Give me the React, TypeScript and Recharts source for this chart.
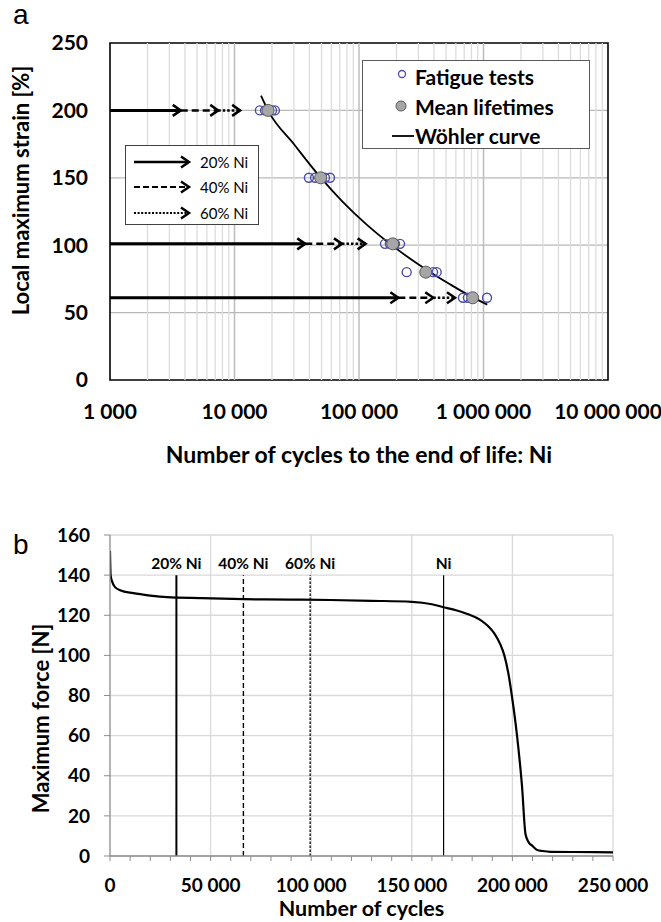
import {
  ComposedChart,
  Scatter,
  Line,
  XAxis,
  YAxis,
  CartesianGrid,
  ReferenceLine,
  ReferenceArea,
  ReferenceDot,
  Legend,
} from 'recharts';

// ---- chart a: Wöhler diagram ----
const testCycles = [16000, 17600, 20000, 21100, 39600, 44400, 53300, 58500, 161700, 177000, 194500, 213600, 241500, 393000, 420600, 684000, 750000, 1067000];
const testStrain = [200, 200, 200, 200, 150, 150, 150, 150, 101, 101, 101, 101, 80, 80, 80, 61, 61, 61];

const meanCycles = [18600, 49200, 186600, 343600, 818000];
const meanStrain = [200, 150, 101, 80, 61];

const woehlerCycles = [16330, 18580, 30060, 49250, 74370, 115300, 186500, 241600, 343400, 538200, 819000, 1073000];
const woehlerStrain = [210.9, 200, 174.9, 150.1, 132, 115.3, 99.5, 91.8, 82.2, 71, 61.3, 55.9];

// horizontal arrows: start of axis -> 20% Ni -> 40% Ni -> 60% Ni
const arrowStrain = [200, 101, 61];
const arrow20 = [3700, 37000, 207000];
const arrow40 = [7400, 73000, 395000];
const arrow60 = [11100, 113000, 590000];

const decadeTicks = [1000, 10000, 100000, 1000000, 10000000];
const strainTicks = [0, 50, 100, 150, 200, 250];

// ---- chart b: force history ----
const forceCycles = [0, 300, 1000, 2500, 5000, 11600, 20000, 28200, 45000, 66300, 90000, 109500, 130000, 150000, 160000, 165800, 172000, 178000, 184000, 188000, 191000, 194000, 196000, 198000, 200000, 202300, 204800, 206500, 208000, 210000, 212300, 215000, 219000, 230000, 250000];
const forceValues = [152, 140, 137, 134, 132.5, 131, 129.8, 129, 128.5, 128, 127.8, 127.6, 127.2, 126.7, 125.5, 124, 122.5, 120.5, 117.7, 114.5, 111, 105.5, 100, 91, 78, 60, 34.5, 11, 7, 5, 3, 2.5, 2.1, 2, 1.8];

const markLabels = ['20% Ni', '40% Ni', '60% Ni', 'Ni'];
const markCycles = [33000, 66300, 99500, 165800];
const markTop = 140;

const cycleTicks = [0, 50000, 100000, 150000, 200000, 250000];
const forceTicks = [0, 20, 40, 60, 80, 100, 120, 140, 160];

const FONT = 'Lato, "Open Sans", sans-serif';

const fmt = (v: number) => String(v).replace(/\B(?=(\d{3})+(?!\d))/g, ' ');

const testData = testCycles.map((n, i) => ({ n, s: testStrain[i] }));
const meanData = meanCycles.map((n, i) => ({ n, s: meanStrain[i] }));
const woehlerData = woehlerCycles.map((n, i) => ({ n, s: woehlerStrain[i] }));

const segs = (from: number[], to: number[]) =>
  arrowStrain.flatMap((s, i) => [
    { n: from[i], s },
    { n: to[i], s },
    { n: to[i], s: null },
  ]);
const solidData = segs(arrowStrain.map(() => 1000), arrow20);
const dashData = segs(arrow20, arrow40);
const dotData = segs(arrow40, arrow60);
const headData = arrowStrain.flatMap((s, i) => [
  { n: arrow20[i], s },
  { n: arrow40[i], s },
  { n: arrow60[i], s },
]);

const minorGrid = decadeTicks.slice(0, -1).flatMap((d) => [2, 3, 4, 5, 6, 7, 8, 9].map((m) => d * m));

const forceData = forceCycles.map((c, i) => ({ c, f: forceValues[i] }));
const minorCycleTicks = Array.from({ length: 26 }, (_, i) => i * 10000);

const tickStyle = { fontFamily: FONT, fontWeight: 700, fill: '#000' };

const yTitle = (text: string, dx: number, dy: number, size: number) => (props: any) => {
  const vb = props.viewBox;
  const x = vb.x + dx;
  const y = vb.y + vb.height / 2 + dy;
  return (
    <text x={x} y={y} transform={`rotate(-90 ${x} ${y})`} textAnchor="middle" dominantBaseline="central"
      style={{ fontFamily: FONT, fontWeight: 700, fontSize: size, fill: '#000' }}>
      {text}
    </text>
  );
};

const Chevron = (props: any) => {
  const { cx, cy } = props;
  return <path d={`M${cx - 8},${cy - 5.5} L${cx},${cy} L${cx - 8},${cy + 5.5}`} fill="none" stroke="#000" strokeWidth={2.5} />;
};

const TestDot = (props: any) => (
  <circle cx={props.cx} cy={props.cy} r={4.5} fill="none" stroke="#4b4bab" strokeWidth={1.4} />
);
const MeanDot = (props: any) => (
  <circle cx={props.cx} cy={props.cy} r={6} fill="#a6a6a6" stroke="#5a5a5a" strokeWidth={1} />
);

function Legends() {
  const txt = { fontFamily: FONT, fontWeight: 700, fontSize: 21, color: '#000', position: 'absolute' as const, left: 52, lineHeight: '24px', whiteSpace: 'nowrap' as const };
  const small = { fontFamily: FONT, fontSize: 15, color: '#000', position: 'absolute' as const, left: 74, lineHeight: '18px' };
  return (
    <div style={{ position: 'relative', width: 661, height: 480 }}>
      <div style={{ position: 'absolute', left: 362, top: 60, width: 226, height: 87, background: '#fff', border: '1px solid #595959' }}>
        <svg width={60} height={88} style={{ position: 'absolute', left: 0, top: 0 }}>
          <circle cx={39} cy={13} r={3.5} fill="none" stroke="#4b4bab" strokeWidth={1.3} />
          <circle cx={38} cy={45} r={5} fill="#a6a6a6" stroke="#5a5a5a" />
          <line x1={29} x2={51} y1={75} y2={75} stroke="#000" strokeWidth={1.8} />
        </svg>
        <span style={{ ...txt, top: 4 }}>Fatigue tests</span>
        <span style={{ ...txt, top: 34 }}>Mean lifetimes</span>
        <span style={{ ...txt, top: 63 }}>Wöhler curve</span>
      </div>
      <div style={{ position: 'absolute', left: 125, top: 145, width: 132, height: 78, background: '#fff', border: '1px solid #404040' }}>
        <svg width={70} height={78} style={{ position: 'absolute', left: 0, top: 0 }}>
          <line x1={8} x2={62} y1={16} y2={16} stroke="#000" strokeWidth={2.5} />
          <line x1={8} x2={62} y1={41} y2={41} stroke="#000" strokeWidth={2.2} strokeDasharray="6 3" />
          <line x1={8} x2={62} y1={67} y2={67} stroke="#000" strokeWidth={2} strokeDasharray="2 1.6" />
          {[16, 41, 67].map((y) => (
            <path key={y} d={`M55,${y - 5.5} L63,${y} L55,${y + 5.5}`} fill="none" stroke="#000" strokeWidth={2.5} />
          ))}
        </svg>
        <span style={{ ...small, top: 7 }}>20% Ni</span>
        <span style={{ ...small, top: 32 }}>40% Ni</span>
        <span style={{ ...small, top: 58 }}>60% Ni</span>
      </div>
    </div>
  );
}

function WoehlerChart() {
  return (
    <ComposedChart width={661} height={480} margin={{ top: 43, right: 53, bottom: 0, left: 0 }}>
      <CartesianGrid vertical={false} horizontalValues={[50, 100, 150, 200]} stroke="#b8b8b8" strokeWidth={1.3} />
      {minorGrid.map((d) => (
        <ReferenceLine key={d} x={d} stroke="#dcdcdc" strokeWidth={1.3} />
      ))}
      {decadeTicks.slice(1, -1).map((d) => (
        <ReferenceLine key={d} x={d} stroke="#bcbcbc" strokeWidth={1.5} />
      ))}
      <XAxis dataKey="n" type="number" scale="log" domain={[1000, 10000000]} ticks={decadeTicks} allowDataOverflow
        tickFormatter={fmt} axisLine={false} tickLine={false} tickMargin={18} height={100}
        tick={{ ...tickStyle, fontSize: 21 }}
        label={{ value: 'Number of cycles to the end of life: Ni', position: 'insideBottom', offset: 17,
          style: { fontFamily: FONT, fontWeight: 700, fontSize: 23, fill: '#000' } }} />
      <YAxis dataKey="s" type="number" domain={[0, 250]} ticks={strainTicks} axisLine={false} tickLine={false}
        tickMargin={16} width={110} tick={{ ...tickStyle, fontSize: 21 }}
        label={yTitle('Local maximum strain [%]', 20, -21, 22)} />
      <Line data={solidData} dataKey="s" stroke="#000" strokeWidth={3} dot={false} isAnimationActive={false} connectNulls={false} />
      <Line data={dashData} dataKey="s" stroke="#000" strokeWidth={2.5} strokeDasharray="7 4" dot={false} isAnimationActive={false} connectNulls={false} />
      <Line data={dotData} dataKey="s" stroke="#000" strokeWidth={2.5} strokeDasharray="2.5 2" dot={false} isAnimationActive={false} connectNulls={false} />
      <Scatter data={headData} dataKey="s" shape={Chevron} isAnimationActive={false} />
      <Scatter data={testData} dataKey="s" shape={TestDot} isAnimationActive={false} />
      <Scatter data={meanData} dataKey="s" shape={MeanDot} isAnimationActive={false} />
      <Line data={woehlerData} dataKey="s" type="monotone" stroke="#000" strokeWidth={1.8} dot={false} isAnimationActive={false} />
      <ReferenceArea x1={1000} x2={10000000} y1={0} y2={250} fill="none" stroke="#000" strokeWidth={1.6} ifOverflow="visible" />
      <Legend layout="horizontal" verticalAlign="middle" align="center" content={() => <Legends />}
        wrapperStyle={{ left: 0, top: 0, width: 661, height: 480, pointerEvents: 'none' }} />
    </ComposedChart>
  );
}

function ForceChart() {
  return (
    <ComposedChart width={661} height={442} margin={{ top: 55, right: 48, bottom: 0, left: 0 }}>
      <CartesianGrid vertical={false} horizontalValues={forceTicks} stroke="#d9d9d9" strokeWidth={1.3} />
      {cycleTicks.slice(1).map((c) => (
        <ReferenceLine key={c} x={c} stroke="#d9d9d9" strokeWidth={1.3} />
      ))}
      <XAxis dataKey="c" type="number" domain={[0, 250000]} ticks={minorCycleTicks} allowDataOverflow
        tickFormatter={(v: number) => (cycleTicks.includes(v) ? fmt(v) : '')}
        axisLine={{ stroke: '#8c8c8c', strokeWidth: 1.3 }} tickLine={{ stroke: '#8c8c8c' }} tickSize={5} tickMargin={18}
        height={66} interval={0} tick={{ ...tickStyle, fontSize: 19 }}
        label={{ value: 'Number of cycles', position: 'insideBottom', offset: 6,
          style: { fontFamily: FONT, fontWeight: 700, fontSize: 21.5, fill: '#000' } }} />
      <YAxis dataKey="f" type="number" domain={[0, 160]} ticks={forceTicks} interval={0}
        axisLine={{ stroke: '#8c8c8c', strokeWidth: 1.3 }} tickLine={{ stroke: '#8c8c8c' }} tickSize={6} tickMargin={14}
        width={110} tick={{ ...tickStyle, fontSize: 19 }}
        label={yTitle('Maximum force [N]', 40, 23, 22)} />
      <ReferenceLine segment={[{ x: markCycles[0], y: 0 }, { x: markCycles[0], y: markTop }]} stroke="#000" strokeWidth={2} />
      <ReferenceLine segment={[{ x: markCycles[1], y: 0 }, { x: markCycles[1], y: markTop }]} stroke="#000" strokeWidth={1.4} strokeDasharray="5 3" />
      <ReferenceLine segment={[{ x: markCycles[2], y: 0 }, { x: markCycles[2], y: markTop }]} stroke="#333" strokeWidth={1.6} strokeDasharray="2.5 1.5" />
      <ReferenceLine segment={[{ x: markCycles[3], y: 0 }, { x: markCycles[3], y: markTop }]} stroke="#000" strokeWidth={1.2} />
      {markCycles.map((c, i) => (
        <ReferenceDot key={c} x={c} y={markTop} r={0} stroke="none" fill="none"
          label={{ value: markLabels[i], position: 'top', offset: 6,
            style: { fontFamily: FONT, fontWeight: 700, fontSize: 15.5, fill: '#000' } }} />
      ))}
      <Line data={forceData} dataKey="f" type="monotone" stroke="#000" strokeWidth={2.2} dot={false} isAnimationActive={false} />
    </ComposedChart>
  );
}

export default function App() {
  const panel = { position: 'absolute' as const, fontFamily: '"Liberation Sans", Arial, sans-serif', fontSize: 28, lineHeight: '30px', color: '#000' };
  return (
    <div style={{ position: 'absolute', left: 0, top: 0, width: 661, height: 922, background: '#fff' }}>
      <div style={{ position: 'absolute', left: 0, top: 0 }}>
        <WoehlerChart />
      </div>
      <div style={{ position: 'absolute', left: 0, top: 480 }}>
        <ForceChart />
      </div>
      <div style={{ ...panel, left: 13, top: 0 }}>a</div>
      <div style={{ ...panel, left: 13, top: 530 }}>b</div>
    </div>
  );
}
